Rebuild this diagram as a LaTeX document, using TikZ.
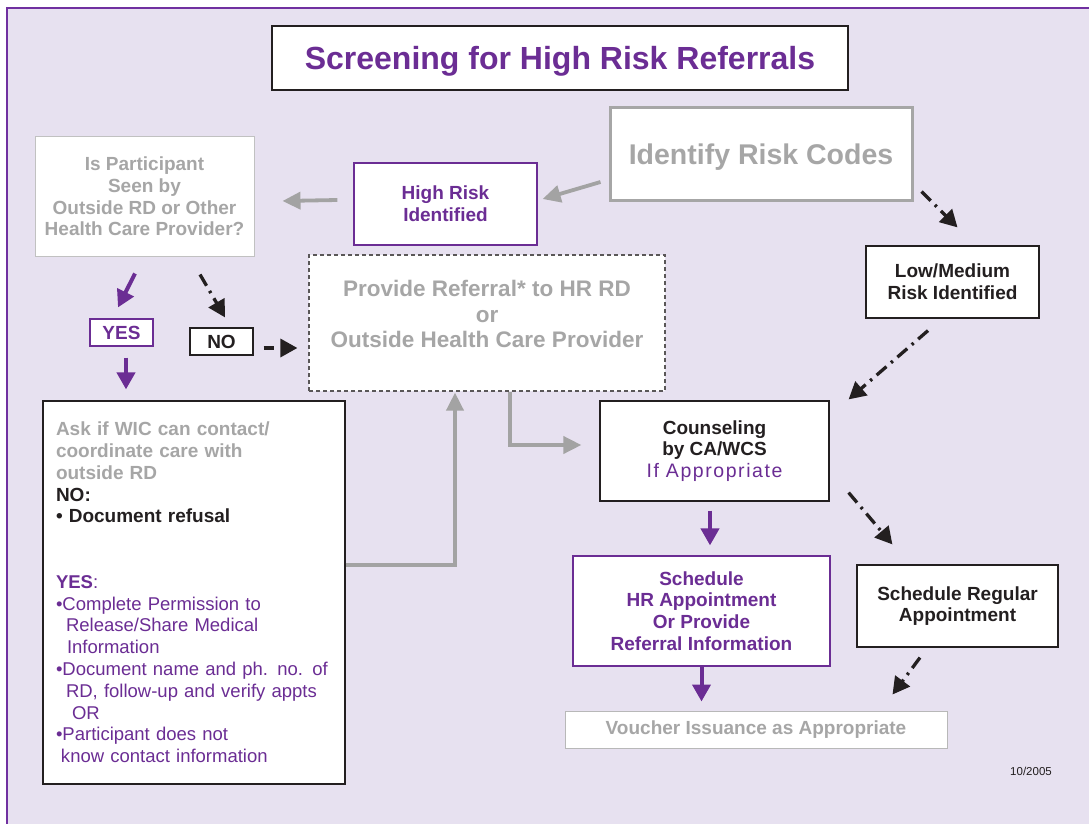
\documentclass[tikz,border=0pt]{standalone}
\usepackage{fontspec}
\setmainfont{Liberation Sans}
\newfontfamily\spacedfont[LetterSpace=8]{Liberation Sans}
\usetikzlibrary{arrows.meta}
\definecolor{purp}{HTML}{6B2D94}
\definecolor{gtext}{HTML}{A6A6A6}
\definecolor{gline}{HTML}{A3A3A3}
\definecolor{blk}{HTML}{231F20}
\definecolor{bgl}{HTML}{E7E1F0}
\definecolor{framec}{HTML}{7030A0}
\tikzset{
  box/.style={draw=blk, line width=1.2pt, fill=white, inner sep=0pt, align=center},
  pbox/.style={box, draw=purp},
  sbold/.style={font=\fontsize{19}{21.8}\selectfont\bfseries},
  garrow/.style={draw=gline, line width=3.8pt, -{Triangle[length=18pt,width=17pt]}},
  parrow/.style={draw=purp, line width=4pt, -{Triangle[length=17pt,width=18pt]}},
  darrow/.style={draw=blk, line width=3.3pt, dash pattern=on 13pt off 6pt on 2.5pt off 6pt, -{Triangle[length=17pt,width=18pt]}},
}
\begin{document}
\begin{tikzpicture}[x=1pt,y=-1pt]
\useasboundingbox (0,0) rectangle (1089,824);
\fill[white] (0,0) rectangle (1089,824);
\fill[bgl] (7,8) rectangle (1089,824);
\draw[framec, line width=1.5pt] (7,824) -- (7,8) -- (1089,8);

% boxes
\node[box, minimum width=576pt, minimum height=64pt, text=purp, font=\fontsize{32}{36}\selectfont\bfseries, text depth=0pt] (title) at (560,58) {Screening for High Risk Referrals};
\node[box, draw=gtext, line width=3pt, minimum width=302pt, minimum height=92pt, text=gtext, font=\fontsize{28.5}{34}\selectfont\bfseries, text depth=0pt] (ident) at (761,154) {Identify Risk Codes};
\node[pbox, sbold, text=purp, minimum width=183pt, minimum height=82pt] (hr) at (445.5,204) {High Risk\\Identified};
\node[box, draw=gtext!70, line width=1pt, sbold, text=gtext, minimum width=219pt, minimum height=119pt] (isp) at (144.5,196.5) {Is Participant\\Seen by\\Outside RD or Other\\Health Care Provider?};
\node[box, sbold, text=blk, minimum width=173pt, minimum height=72pt] (low) at (952.5,282) {Low/Medium\\Risk Identified};
\node[box, draw=blk!75, dash pattern=on 4pt off 3pt, minimum width=356pt, minimum height=136pt] (ref) at (487,323) {};
\node[text=gtext, font=\fontsize{22.5}{25.5}\selectfont\bfseries, align=center, inner sep=0pt] (reftext) at (487,314) {Provide Referral* to HR RD\\or\\Outside Health Care Provider};
\node[pbox, sbold, text=purp, minimum width=63pt, minimum height=27pt] (yes) at (121.5,332.5) {YES};
\node[box, sbold, text=blk, minimum width=63pt, minimum height=27pt] (no) at (221.5,341.5) {NO};
\node[box, text width=276pt, minimum width=302pt, minimum height=383pt, inner xsep=13pt, inner ysep=0pt, align=left, font=\fontsize{18.5}{21.8}\selectfont] (ask) at (194,592.5) {%
\textcolor{gtext}{\bfseries\fontsize{19}{21.8}\selectfont Ask if WIC can contact/}\\
\textcolor{gtext}{\bfseries\fontsize{19}{21.8}\selectfont coordinate care with}\\
\textcolor{gtext}{\bfseries\fontsize{19}{21.8}\selectfont outside RD}\\
\textcolor{blk}{\bfseries\fontsize{19}{21.8}\selectfont NO:}\\
\textcolor{blk}{\bfseries\fontsize{19}{21.8}\selectfont • Document refusal}\\
\mbox{}\\
\mbox{}\\
\textcolor{purp}{\textbf{YES}:}\\
\textcolor{purp}{•Complete Permission to}\\
\textcolor{purp}{\hspace*{10pt}Release/Share Medical}\\
\textcolor{purp}{\hspace*{11pt}Information}\\
\textcolor{purp}{•Document name and ph. no. of}\\
\textcolor{purp}{\hspace*{10pt}RD, follow-up and verify appts}\\
\textcolor{purp}{\hspace*{16pt}OR}\\
\textcolor{purp}{•Participant does not}\\
\textcolor{purp}{\hspace*{5pt}know contact information}};
\node[box, sbold, text=blk, minimum width=229pt, minimum height=100pt] (couns) at (714.5,451) {Counseling\\by CA/WCS\\{\spacedfont\mdseries\color{purp}\fontsize{19.5}{21.8}\selectfont If Appropriate}};
\node[pbox, sbold, text=purp, minimum width=257pt, minimum height=110pt] (shr) at (701.5,611) {Schedule\\HR Appointment\\Or Provide\\Referral Information};
\node[box, sbold, text=blk, minimum width=201pt, minimum height=82pt] (sreg) at (957.5,606) {Schedule Regular\\Appointment};
\node[box, draw=gtext!80, line width=1pt, sbold, text=gtext, minimum width=382pt, minimum height=37pt] (vouch) at (756,729.5) {Voucher Issuance as Appropriate};
\node[text=blk, font=\fontsize{11.5}{13}\selectfont, inner sep=0pt] (date) at (1031,771) {10/2005};

% connectors
\draw[garrow] ([shift={(-16pt,4pt)}]hr.west) -- ([shift={(28pt,-4.5pt)}]isp.east);
\draw[garrow] ([shift={(-8pt,-28pt)}]ident.west) -- ([shift={(5pt,5pt)}]hr.east);
\draw[darrow] ([shift={(8pt,10pt)}]ident.south east) -- ([shift={(5pt,18pt)}]low.north);
\draw[darrow] ([shift={(-24.5pt,-12pt)}]low.south) -- ([shift={(19pt,1pt)}]couns.north east);
\draw[parrow] ([shift={(-9.5pt,-17pt)}]isp.south) -- ([shift={(-3.5pt,11pt)}]yes.north);
\draw[darrow] ([shift={(55.5pt,-18pt)}]isp.south) -- ([shift={(3.5pt,10pt)}]no.north);
\draw[darrow, dash pattern=on 10pt off 9pt] ([shift={(10pt,-6.5pt)}]no.east) -- ([shift={(-11pt,-25pt)}]ref.west);
\coordinate (y1) at ([shift={(4.5pt,-11pt)}]yes.south);
\draw[parrow, shorten >=11pt] (y1) -- (y1 |- ask.north);
\draw[garrow, line cap=butt] ([yshift=27.5pt]ask.east) -| ([shift={(-32pt,-1pt)}]ref.south);
\draw[garrow] ([xshift=23pt]ref.south) |- ([shift={(-18pt,6pt)}]couns.west);
\coordinate (c1) at ([shift={(-4.5pt,-9pt)}]couns.south);
\draw[parrow, shorten >=10pt] (c1) -- (c1 |- shr.north);
\draw[darrow] ([shift={(19pt,9pt)}]couns.south east) -- ([shift={(36pt,20pt)}]sreg.north west);
\draw[parrow, shorten >=9pt] (shr.south) -- (shr.south |- vouch.north);
\draw[darrow] ([shift={(-37.5pt,-10pt)}]sreg.south) -- ([shift={(-55pt,16pt)}]vouch.north east);
\end{tikzpicture}
\end{document}
